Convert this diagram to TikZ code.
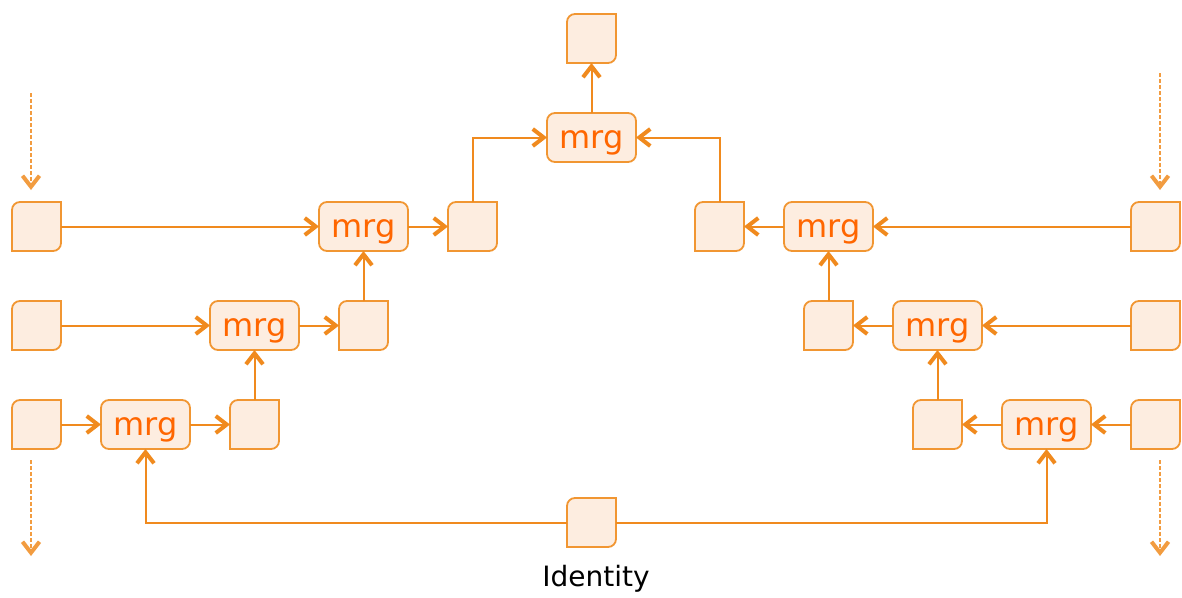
\documentclass[tikz,border=0pt]{standalone}
\usepackage{fontspec}
\setmainfont{DejaVu Sans}
\usetikzlibrary{arrows.meta}

\definecolor{lineorange}{RGB}{240,138,30}
\definecolor{boxfill}{RGB}{253,237,224}
\definecolor{boxline}{RGB}{241,150,50}
\definecolor{mrgtext}{RGB}{255,102,0}

\tikzset{
  cell/.style={minimum size=49pt, inner sep=0pt, outer sep=0pt},
  cellshape/.style={draw=boxline, fill=boxfill, line width=1.8pt},
  mrg/.style={draw=boxline, fill=boxfill, line width=1.8pt, rounded corners=8pt,
    minimum width=89pt, minimum height=49pt, inner sep=0pt, outer sep=0pt,
    text height=22pt, text depth=0pt,
    text=mrgtext, font=\fontsize{32}{32}\selectfont},
  barb/.style={-{Straight Barb[length=11pt,width=17pt,line width=4pt 0]}},
  flow/.style={draw=lineorange, line width=2pt, barb},
  stream/.style={draw=lineorange!85, line width=1.3pt, dash pattern=on 4pt off 2pt, barb},
}

\begin{document}
\begin{tikzpicture}[x=1pt,y=-1pt]
  \useasboundingbox (0,0) rectangle (1182,597);

  % input cells
  \node[cell] (l1) at (36.5,226.5) {};
  \node[cell] (l2) at (36.5,325.5) {};
  \node[cell] (l3) at (36.5,424.5) {};
  \node[cell] (r1) at (1155.5,226.5) {};
  \node[cell] (r2) at (1155.5,325.5) {};
  \node[cell] (r3) at (1155.5,424.5) {};

  % merge nodes
  \node[mrg] (m1l) at (363.5,226.5) {mrg};
  \node[mrg] (m2l) at (254.5,325.5) {mrg};
  \node[mrg] (m3l) at (145.5,424.5) {mrg};
  \node[mrg] (m1r) at (828.5,226.5) {mrg};
  \node[mrg] (m2r) at (937.5,325.5) {mrg};
  \node[mrg] (m3r) at (1046.5,424.5) {mrg};
  \node[mrg] (mtop) at (591.5,137.5) {mrg};

  % intermediate and result cells
  \node[cell] (o1l) at (472.5,226.5) {};
  \node[cell] (o2l) at (363.5,325.5) {};
  \node[cell] (o3l) at (254.5,424.5) {};
  \node[cell] (o1r) at (719.5,226.5) {};
  \node[cell] (o2r) at (828.5,325.5) {};
  \node[cell] (o3r) at (937.5,424.5) {};
  \node[cell] (out) at (591.5,38.5) {};
  \node[cell] (id) at (591.5,522.5) {};
  \node[font=\fontsize{28}{28}\selectfont] (idlabel) at (596,579) {Identity};

  % cells: only top left and bottom right corners are round
  \foreach \n in {l1,l2,l3,r1,r2,r3,o1l,o2l,o3l,o1r,o2r,o3r,out,id}
    \draw[cellshape] (\n.south west) -- ([yshift=-8pt]\n.north west)
      arc[start angle=180,end angle=90,radius=8pt] -- (\n.north east)
      -- ([yshift=8pt]\n.south east) arc[start angle=0,end angle=-90,radius=8pt] -- cycle;

  % left half
  \draw[flow] (l1) -- (m1l);
  \draw[flow] (l2) -- (m2l);
  \draw[flow] (l3) -- (m3l);
  \draw[flow] (m1l) -- (o1l);
  \draw[flow] (m2l) -- (o2l);
  \draw[flow] (m3l) -- (o3l);
  \draw[flow] (o2l) -- (m1l);
  \draw[flow] (o3l) -- (m2l);
  \draw[flow] (o1l.north) |- (mtop.west);

  % right half
  \draw[flow] (r1) -- (m1r);
  \draw[flow] (r2) -- (m2r);
  \draw[flow] (r3) -- (m3r);
  \draw[flow] (m1r) -- (o1r);
  \draw[flow] (m2r) -- (o2r);
  \draw[flow] (m3r) -- (o3r);
  \draw[flow] (o2r) -- (m1r);
  \draw[flow] (o3r) -- (m2r);
  \draw[flow] (o1r.north) |- (mtop.east);

  \draw[flow] (mtop) -- (out);
  \draw[flow] (id.west) -| (m3l.south);
  \draw[flow] (id.east) -| (m3r.south);

  % streams coming in and going on
  \coordinate (lin) at (31,93);
  \coordinate (lout) at (31,460);
  \coordinate (rin) at (1160,73);
  \coordinate (rout) at (1160,460);
  \draw[stream] (lin) -- ++(0,97);
  \draw[stream] (lout) -- ++(0,96);
  \draw[stream] (rin) -- ++(0,117);
  \draw[stream] (rout) -- ++(0,96);
\end{tikzpicture}
\end{document}
